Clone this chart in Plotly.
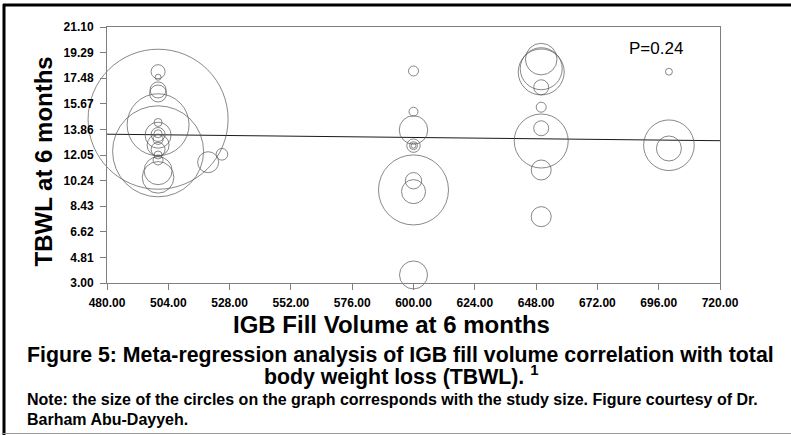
import plotly.graph_objects as go

# ---- data ----
fill_volume = [
    500, 500, 500, 500, 500, 500, 500, 500, 500, 500, 500, 500, 500, 500, 500, 500, 500, 500,
    519.6, 525,
    600, 600, 600, 600, 600, 600, 600, 600, 600, 600, 600,
    650, 650, 650, 650, 650, 650, 650, 650, 650,
    700, 700, 700,
]
tbwl = [
    14.58, 12.31, 14.19, 17.94, 17.55, 16.65, 16.40, 14.35, 13.45, 13.50, 13.55, 13.15, 12.75, 12.45,
    12.05, 11.70, 10.94, 10.47,
    11.54, 12.10,
    21.15, 17.99, 15.11, 13.82, 12.71, 12.71, 12.71, 9.58, 10.23, 9.46, 3.57,
    18.83, 18.15, 17.92, 16.84, 15.43, 13.94, 13.04, 10.99, 7.69,
    17.94, 12.74, 12.51,
]
study_weight = [
    4900, 2070, 960, 49, 9, 64, 72, 16, 169, 49, 16, 25, 121, 49,
    16, 25, 196, 250,
    110, 34,
    25, 25, 20, 204, 45, 16, 6, 1225, 67, 144, 196,
    250, 441, 529, 56, 25, 56, 729, 100, 100,
    12, 640, 156,
]

reg_x = [480, 720]
reg_y = [13.52, 13.06]
p_label = "P=0.24"

x_ticks = [480, 504, 528, 552, 576, 600, 624, 648, 672, 696, 720]
y_ticks = [3.00, 4.81, 6.62, 8.43, 10.24, 12.05, 13.86, 15.67, 17.48, 19.29, 21.10]

x_title = "IGB Fill Volume at 6 months"
y_title = "TBWL at 6 months"
caption1 = "Figure 5: Meta-regression analysis of IGB fill volume correlation with total"
caption2 = "body weight loss (TBWL). <sup>1</sup>"
note1 = "Note: the size of the circles on the graph corresponds with the study size. Figure courtesy of Dr."
note2 = "Barham Abu-Dayyeh."

# ---- figure ----
FONT = "Liberation Sans, Arial, sans-serif"
L, R, T, B = 107, 71, 27, 152
W, H = 791, 435
PW, PH = W - L - R, H - T - B


def px(xp):
    return (xp - L) / PW


def py(yp):
    return (H - B - yp) / PH


fig = go.Figure()
fig.add_trace(go.Scatter(
    x=reg_x, y=reg_y, mode="lines",
    line=dict(color="#1a1a1a", width=1), hoverinfo="skip",
))
fig.add_trace(go.Scatter(
    x=fill_volume, y=tbwl, mode="markers", cliponaxis=False,
    marker=dict(
        symbol="circle-open", size=study_weight, sizemode="area", sizeref=0.5,
        color="#555555", line=dict(width=1, color="#555555"),
    ),
))

axis_common = dict(
    showgrid=False, zeroline=False, showline=True, linecolor="#7f7f7f", linewidth=1,
    mirror=True, ticks="outside", ticklen=6, tickcolor="#7f7f7f",
    tickfont=dict(family=FONT, size=12, color="black", weight="bold"),
)
fig.update_xaxes(range=[480, 720], tickvals=x_ticks, ticklabelstandoff=3,
                 ticktext=[f"{v:.2f}" for v in x_ticks], **axis_common)
fig.update_yaxes(range=[3.0, 21.10], tickvals=y_ticks, ticklabelstandoff=4,
                 ticktext=[f"{v:.2f}" for v in y_ticks], **axis_common)


def note(text, x, y, size, weight="bold", xanchor="center", angle=0):
    return dict(text=text, x=px(x), y=py(y), xref="paper", yref="paper",
                xanchor=xanchor, yanchor="middle", textangle=angle, showarrow=False,
                font=dict(family=FONT, size=size, color="black", weight=weight))


ann = [
    note(p_label, 655.5, 48.3, 17, weight="normal"),
    note(x_title, 391.5, 324, 24),
    note(y_title, 42.5, 162, 24, angle=-90),
    note(caption1, 400.5, 354.5, 21.3),
    note(caption2, 401, 375.5, 21.3),
    note(note1, 25, 399, 16, xanchor="left"),
    note(note2, 25, 419, 16, xanchor="left"),
]

shapes = [
    dict(type="line", xref="paper", yref="paper", x0=px(4), x1=px(4), y0=py(4), y1=py(436),
         line=dict(color="black", width=3)),
    dict(type="line", xref="paper", yref="paper", x0=px(3), x1=px(791), y0=py(5), y1=py(5),
         line=dict(color="black", width=3)),
    dict(type="line", xref="paper", yref="paper", x0=px(3), x1=px(791), y0=py(433.5), y1=py(433.5),
         line=dict(color="#9a9a9a", width=1)),
]

fig.update_layout(
    width=W, height=H, margin=dict(l=L, r=R, t=T, b=B),
    paper_bgcolor="white", plot_bgcolor="white", showlegend=False,
    annotations=ann, shapes=shapes,
)

fig.write_html(
    "out.html",
    config={"displayModeBar": False},
    post_script="document.body.style.margin='0';document.body.style.padding='0';",
)
